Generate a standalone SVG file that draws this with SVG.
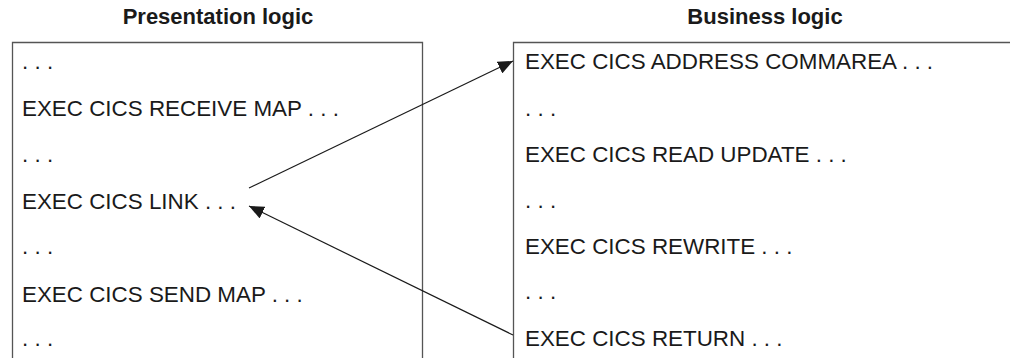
<svg xmlns="http://www.w3.org/2000/svg" width="1010" height="358" viewBox="0 0 1010 358">
<defs>
<style>
.t{font-family:"Liberation Sans",Arial,sans-serif;font-size:22.4px;fill:#1a1a1a}
.h{font-family:"Liberation Sans",Arial,sans-serif;font-size:22px;font-weight:bold;fill:#1a1a1a;text-anchor:middle}
.box{fill:none;stroke:#555;stroke-width:1.3}
.c{fill:none;stroke:#1a1a1a;stroke-width:1.2}
</style>
<marker id="ah" viewBox="0 0 15 13" refX="15" refY="6.5" markerWidth="15" markerHeight="13" markerUnits="userSpaceOnUse" orient="auto">
<path d="M0,0 L15,6.5 L0,13 Z" fill="#1a1a1a"/>
</marker>
</defs>
<rect width="1010" height="358" fill="#fff"/>
<g id="presentation">
<text class="h" x="218" y="24">Presentation logic</text>
<path class="box" d="M12.5,358 V42.5 H422.5 V358"/>
<text class="t" x="22" y="69">. . .</text>
<text class="t" x="22" y="116">EXEC CICS RECEIVE MAP . . .</text>
<text class="t" x="22" y="162">. . .</text>
<text class="t" x="22" y="209">EXEC CICS LINK . . .</text>
<text class="t" x="22" y="254">. . .</text>
<text class="t" x="22" y="302">EXEC CICS SEND MAP . . .</text>
<text class="t" x="22" y="346">. . .</text>
</g>
<g id="business">
<text class="h" x="765" y="24">Business logic</text>
<path class="box" d="M513.5,358 V42.5 H1012"/>
<text class="t" x="525" y="69">EXEC CICS ADDRESS COMMAREA . . .</text>
<text class="t" x="525" y="116">. . .</text>
<text class="t" x="525" y="162">EXEC CICS READ UPDATE . . .</text>
<text class="t" x="525" y="208">. . .</text>
<text class="t" x="525" y="254">EXEC CICS REWRITE . . .</text>
<text class="t" x="525" y="299">. . .</text>
<text class="t" x="525" y="346">EXEC CICS RETURN . . .</text>
</g>
<g id="connectors">
<line class="c" x1="249" y1="188" x2="513" y2="61" marker-end="url(#ah)"/>
<line class="c" x1="513" y1="335" x2="249" y2="206" marker-end="url(#ah)"/>
</g>
</svg>
